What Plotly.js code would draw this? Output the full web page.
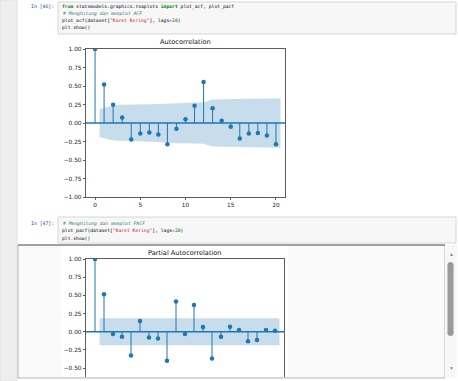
<!DOCTYPE html>
<html><head><meta charset="utf-8">
<script src="https://cdn.plot.ly/plotly-3.0.1.min.js"></script>
<style>html,body{margin:0;padding:0;background:#fff;overflow:hidden}#plot{width:458px;height:381px}</style>
</head><body><div id="plot"></div>
<script>
// ---- data ----
const lags = [0,1,2,3,4,5,6,7,8,9,10,11,12,13,14,15,16,17,18,19,20];
const acfValues = [1.00,0.52,0.245,0.073,-0.223,-0.141,-0.127,-0.155,-0.286,-0.077,0.05,0.232,0.555,0.20,0.032,-0.05,-0.209,-0.141,-0.136,-0.168,-0.286];
// half-width of the ACF confidence band for lags 1..20
const acfBandHalf = [0.19,0.236,0.245,0.245,0.252,0.255,0.258,0.261,0.272,0.273,0.273,0.28,0.317,0.322,0.322,0.323,0.327,0.329,0.331,0.334];
const pacfValues = [1.00,0.514,-0.032,-0.069,-0.326,0.147,-0.078,-0.092,-0.399,0.417,-0.032,0.367,0.066,-0.367,-0.069,0.069,0.023,-0.133,-0.115,0.023,0.014];
const pacfBandHalf = [0.185,0.185,0.185,0.185,0.185,0.185,0.185,0.185,0.185,0.185,0.185,0.185,0.185,0.185,0.185,0.185,0.185,0.185,0.185,0.185];
const xTickVals = [0,5,10,15,20];
const acfYTicks = [-1,-0.75,-0.5,-0.25,0,0.25,0.5,0.75,1];
const pacfYTicks = [-0.5,-0.25,0,0.25,0.5,0.75,1];
const acfTitle = "Autocorrelation";
const pacfTitle = "Partial Autocorrelation";

// ---- layout helpers ----
const W = 458, H = 381;
const px = x => x / W;
const py = y => 1 - y / H;
const BLUE = '#1f77b4';

function bandTrace(half, xa, ya) {
  const bx = lags.slice(1).map(v => v);
  bx[0] -= 0.5; bx[bx.length - 1] += 0.5;
  const xs = bx.concat(bx.slice().reverse());
  const ys = half.concat(half.slice().reverse().map(v => -v));
  return {x: xs, y: ys, xaxis: xa, yaxis: ya, type: 'scatter', mode: 'lines',
    fill: 'toself', fillcolor: 'rgba(31,119,180,0.25)', line: {width: 0}, hoverinfo: 'skip'};
}
function stemTrace(vals, xa, ya) {
  const xs = [], ys = [];
  lags.forEach((l, i) => { xs.push(l, l, null); ys.push(0, vals[i], null); });
  return {x: xs, y: ys, xaxis: xa, yaxis: ya, type: 'scatter', mode: 'lines',
    line: {color: BLUE, width: 1}, hoverinfo: 'skip'};
}
function markerTrace(vals, xa, ya) {
  return {x: lags, y: vals, xaxis: xa, yaxis: ya, type: 'scatter', mode: 'markers',
    marker: {color: BLUE, size: 4.5}, hoverinfo: 'skip'};
}

const data = [
  bandTrace(acfBandHalf, 'x', 'y'),
  stemTrace(acfValues, 'x', 'y'),
  markerTrace(acfValues, 'x', 'y'),
  bandTrace(pacfBandHalf, 'x2', 'y2'),
  stemTrace(pacfValues, 'x2', 'y2'),
  markerTrace(pacfValues, 'x2', 'y2')
];

const tickFont = {family: 'DejaVu Sans', size: 5.8, color: '#222'};
const axBase = {showgrid: false, zeroline: false, ticks: 'outside', ticklen: 2.5,
  tickwidth: 0.8, tickcolor: '#333', linecolor: '#333', linewidth: 0.8, tickfont: tickFont};

const codeFont = {family: 'DejaVu Sans Mono', size: 4.7, color: '#000'};
const K = s => '<span style="color:#008000"><b>' + s + '</b></span>';
const C = s => '<span style="color:#408080"><i>' + s + '</i></span>';
const S = s => '<span style="color:#BA2121">' + s + '</span>';
const N = s => '<span style="color:#008000">' + s + '</span>';
const O = s => '<span style="color:#AA22FF">' + s + '</span>';

function codeLine(y, html) {
  return {xref: 'paper', yref: 'paper', x: px(60), y: py(y), xanchor: 'left', yanchor: 'middle',
    text: html, showarrow: false, font: codeFont, align: 'left'};
}
function prompt(y, t) {
  return {xref: 'paper', yref: 'paper', x: px(55.5), y: py(y), xanchor: 'right', yanchor: 'middle',
    text: t, showarrow: false, font: {family: 'DejaVu Sans Mono', size: 4.8, color: '#303F9F'}};
}

const annotations = [
  prompt(6.7, 'In [46]:'),
  codeLine(6.7, K('from') + ' statsmodels.graphics.tsaplots ' + K('import') + ' plot_acf, plot_pacf'),
  codeLine(14, C('# Menghitung dan memplot ACF')),
  codeLine(21, 'plot_acf(dataset[' + S('"Karet Kering"') + '], lags' + O('=') + N('20') + ')'),
  codeLine(28, 'plt' + O('.') + 'show()'),
  prompt(223.3, 'In [47]:'),
  codeLine(223.3, C('# Menghitung dan memplot PACF')),
  codeLine(230.7, 'plot_pacf(dataset[' + S('"Karet Kering"') + '], lags' + O('=') + N('20') + ')'),
  codeLine(238.3, 'plt' + O('.') + 'show()'),
  {xref: 'paper', yref: 'paper', x: px(185), y: py(42.5), xanchor: 'center', yanchor: 'middle',
    text: acfTitle, showarrow: false, font: {family: 'DejaVu Sans', size: 6.6, color: '#111'}},
  {xref: 'paper', yref: 'paper', x: px(185), y: py(253), xanchor: 'center', yanchor: 'middle',
    text: pacfTitle, showarrow: false, font: {family: 'DejaVu Sans', size: 6.6, color: '#111'}},
  {xref: 'paper', yref: 'paper', x: px(451), y: py(254), xanchor: 'center', yanchor: 'middle',
    text: '▲', showarrow: false, font: {size: 5, color: '#8a8a8a'}},
  {xref: 'paper', yref: 'paper', x: px(451), y: py(368), xanchor: 'center', yanchor: 'middle',
    text: '▼', showarrow: false, font: {size: 5, color: '#8a8a8a'}}
];

function rect(x0, y0, x1, y1, fill, line, lw) {
  return {type: 'rect', xref: 'paper', yref: 'paper', x0: px(x0), x1: px(x1), y0: py(y1), y1: py(y0),
    fillcolor: fill, line: {color: line || 'rgba(0,0,0,0)', width: lw || 0}, layer: 'below'};
}
function hline(x0, x1, y, color, w) {
  return {type: 'line', xref: 'paper', yref: 'paper', x0: px(x0), x1: px(x1), y0: py(y), y1: py(y),
    line: {color: color, width: w}, layer: 'below'};
}

const shapes = [
  rect(0, 0, 17, 381, '#eeeeee', '#e2e2e2', 1),
  rect(58, 2, 456, 34, '#f7f7f7', '#d6d6d6', 1),
  rect(58, 217, 456, 243, '#f7f7f7', '#d6d6d6', 1),
  rect(18, 245, 445, 378, '#fafafa', '#b5b5b5', 1),
  hline(18, 445, 245, '#8c8c8c', 1.5),
  rect(61, 246, 288, 377, '#ffffff'),
  rect(445, 245, 457, 378, '#f7f7f7'),
  rect(447.5, 265, 453.5, 333, '#9a9a9a'),
  {type: 'circle', xref: 'paper', yref: 'paper', x0: px(447.5), x1: px(453.5), y0: py(268), y1: py(262), fillcolor: '#9a9a9a', line: {width: 0}, layer: 'below'},
  {type: 'circle', xref: 'paper', yref: 'paper', x0: px(447.5), x1: px(453.5), y0: py(336), y1: py(330), fillcolor: '#9a9a9a', line: {width: 0}, layer: 'below'},
  // zero lines
  {type: 'line', xref: 'x domain', yref: 'y', x0: 0, x1: 1, y0: 0, y1: 0, line: {color: BLUE, width: 1.5}, layer: 'below'},
  {type: 'line', xref: 'x2 domain', yref: 'y2', x0: 0, x1: 1, y0: 0, y1: 0, line: {color: BLUE, width: 1.5}, layer: 'below'}
];

const layout = {
  width: W, height: H, margin: {l: 0, r: 0, t: 0, b: 0},
  paper_bgcolor: '#ffffff', plot_bgcolor: 'rgba(0,0,0,0)', showlegend: false,
  xaxis: Object.assign({}, axBase, {domain: [px(86), px(285)], range: [-1, 21], tickvals: xTickVals,
    showline: true, mirror: true, anchor: 'y'}),
  yaxis: Object.assign({}, axBase, {domain: [py(197), py(49)], range: [-1, 1], tickvals: acfYTicks,
    tickformat: '.2f', showline: true, mirror: true, anchor: 'x'}),
  xaxis2: Object.assign({}, axBase, {domain: [px(86), px(284)], range: [-1, 21], tickvals: xTickVals,
    showline: true, side: 'top', ticks: '', showticklabels: false, anchor: 'y2'}),
  yaxis2: Object.assign({}, axBase, {domain: [py(377), py(259)], range: [-0.623, 1], tickvals: pacfYTicks,
    tickformat: '.2f', showline: true, mirror: true, anchor: 'x2'}),
  shapes: shapes, annotations: annotations
};

Plotly.newPlot('plot', data, layout, {staticPlot: true, displayModeBar: false});
</script></body></html>
